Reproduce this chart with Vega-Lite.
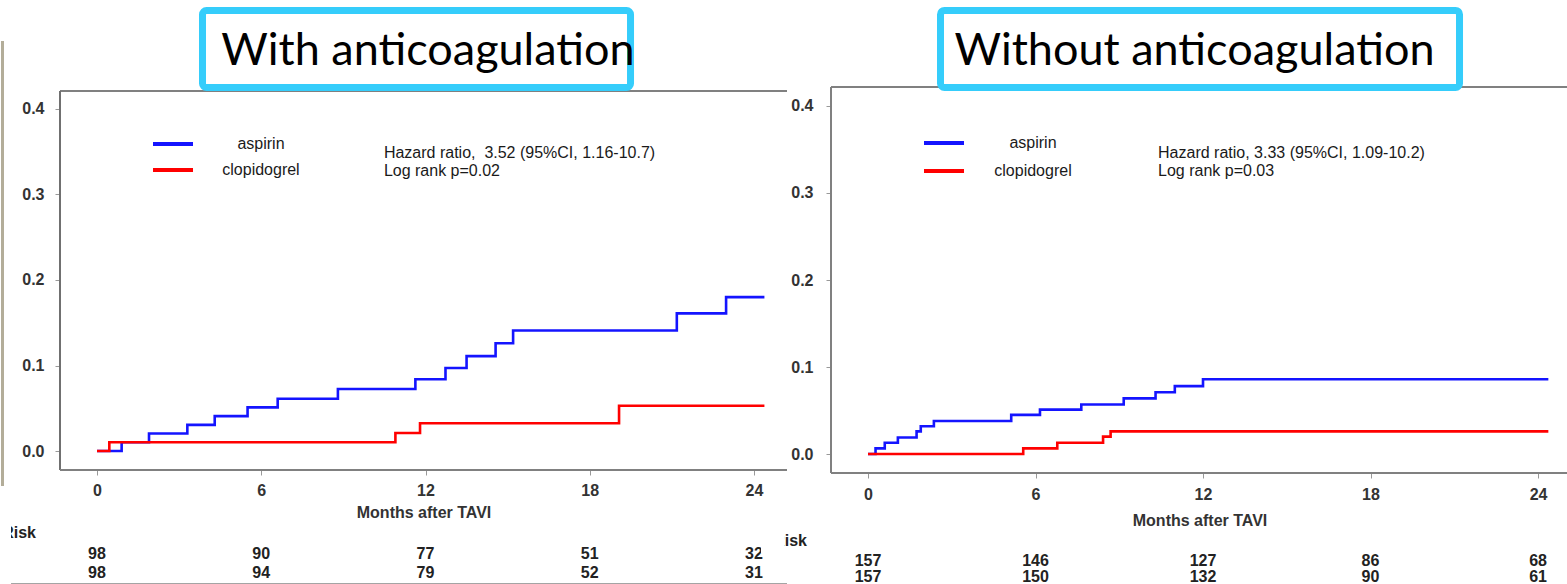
{
  "$schema": "https://vega.github.io/schema/vega-lite/v6.json",
  "padding": {"left": 0, "top": 6, "right": 0, "bottom": 0},
  "background": "white",
  "spacing": 44,
  "bounds": "flush",
  "config": {
    "view": {"stroke": null},
    "axis": {
      "grid": false, "domain": false, "ticks": true, "tickColor": "#999999", "tickSize": 5, "tickWidth": 1,
      "labelFont": "Liberation Sans", "labelFontWeight": "bold", "labelFontSize": 16, "labelColor": "#333333",
      "titleFont": "Liberation Sans", "titleFontWeight": "bold", "titleFontSize": 16, "titleColor": "#333333"
    },
    "text": {"font": "Liberation Sans", "fontSize": 16, "fontWeight": "normal", "color": "#1a1a1a"}
  },
  "datasets": {
    "left_curves": [
      {"group": "aspirin", "t": 0, "v": 0}, {"group": "aspirin", "t": 0.9, "v": 0.0102}, {"group": "aspirin", "t": 1.9, "v": 0.0204},
      {"group": "aspirin", "t": 3.3, "v": 0.0306}, {"group": "aspirin", "t": 4.3, "v": 0.0408}, {"group": "aspirin", "t": 5.5, "v": 0.051},
      {"group": "aspirin", "t": 6.6, "v": 0.0612}, {"group": "aspirin", "t": 8.8, "v": 0.0725}, {"group": "aspirin", "t": 11.63, "v": 0.084},
      {"group": "aspirin", "t": 12.73, "v": 0.097}, {"group": "aspirin", "t": 13.5, "v": 0.111}, {"group": "aspirin", "t": 14.56, "v": 0.126},
      {"group": "aspirin", "t": 15.2, "v": 0.141}, {"group": "aspirin", "t": 21.18, "v": 0.161}, {"group": "aspirin", "t": 22.98, "v": 0.18},
      {"group": "aspirin", "t": 24.38, "v": 0.18},
      {"group": "clopidogrel", "t": 0, "v": 0}, {"group": "clopidogrel", "t": 0.45, "v": 0.0102}, {"group": "clopidogrel", "t": 10.9, "v": 0.021},
      {"group": "clopidogrel", "t": 11.8, "v": 0.0325}, {"group": "clopidogrel", "t": 19.07, "v": 0.053}, {"group": "clopidogrel", "t": 24.38, "v": 0.053}
    ],
    "right_curves": [
      {"group": "aspirin", "t": 0, "v": 0}, {"group": "aspirin", "t": 0.27, "v": 0.0065}, {"group": "aspirin", "t": 0.6, "v": 0.013},
      {"group": "aspirin", "t": 1.07, "v": 0.019}, {"group": "aspirin", "t": 1.74, "v": 0.026}, {"group": "aspirin", "t": 1.89, "v": 0.032},
      {"group": "aspirin", "t": 2.36, "v": 0.038}, {"group": "aspirin", "t": 5.13, "v": 0.045}, {"group": "aspirin", "t": 6.16, "v": 0.051},
      {"group": "aspirin", "t": 7.64, "v": 0.057}, {"group": "aspirin", "t": 9.16, "v": 0.064}, {"group": "aspirin", "t": 10.3, "v": 0.071},
      {"group": "aspirin", "t": 10.99, "v": 0.078}, {"group": "aspirin", "t": 12.0, "v": 0.086}, {"group": "aspirin", "t": 24.37, "v": 0.086},
      {"group": "clopidogrel", "t": 0, "v": 0}, {"group": "clopidogrel", "t": 5.56, "v": 0.0065}, {"group": "clopidogrel", "t": 6.78, "v": 0.013},
      {"group": "clopidogrel", "t": 8.42, "v": 0.02}, {"group": "clopidogrel", "t": 8.69, "v": 0.026}, {"group": "clopidogrel", "t": 24.37, "v": 0.026}
    ],
    "left_risk": [
      {"group": "aspirin", "month": 0, "n": 98}, {"group": "aspirin", "month": 6, "n": 90}, {"group": "aspirin", "month": 12, "n": 77},
      {"group": "aspirin", "month": 18, "n": 51}, {"group": "aspirin", "month": 24, "n": 32},
      {"group": "clopidogrel", "month": 0, "n": 98}, {"group": "clopidogrel", "month": 6, "n": 94}, {"group": "clopidogrel", "month": 12, "n": 79},
      {"group": "clopidogrel", "month": 18, "n": 52}, {"group": "clopidogrel", "month": 24, "n": 31}
    ],
    "right_risk": [
      {"group": "aspirin", "month": 0, "n": 157}, {"group": "aspirin", "month": 6, "n": 146}, {"group": "aspirin", "month": 12, "n": 127},
      {"group": "aspirin", "month": 18, "n": 86}, {"group": "aspirin", "month": 24, "n": 68},
      {"group": "clopidogrel", "month": 0, "n": 157}, {"group": "clopidogrel", "month": 6, "n": 150}, {"group": "clopidogrel", "month": 12, "n": 132},
      {"group": "clopidogrel", "month": 18, "n": 90}, {"group": "clopidogrel", "month": 24, "n": 61}
    ]
  },
  "hconcat": [
    {
      "width": 727,
      "height": 383,
      "data": {"values": [{}]},
      "layer": [
        {
          "data": {"name": "left_curves"},
          "mark": {"type": "line", "interpolate": "step-after", "strokeWidth": 2.6},
          "encoding": {
            "x": {"field": "t", "type": "quantitative", "scale": {"domain": [-1.3516, 25.205], "nice": false, "zero": false},
                  "axis": {"values": [0, 6, 12, 18, 24], "title": "Months after TAVI", "labelPadding": 7.4, "titlePadding": 6}},
            "y": {"field": "v", "type": "quantitative", "scale": {"domain": [-0.0222, 0.4257], "nice": false, "zero": false},
                  "axis": {"values": [0, 0.1, 0.2, 0.3, 0.4], "format": ".1f", "title": null, "labelPadding": 11}},
            "color": {"field": "group", "type": "nominal", "scale": {"domain": ["aspirin", "clopidogrel"], "range": ["#1414ff", "#ff0000"]}, "legend": null},
            "detail": {"field": "group"}
          }
        },
        {"mark": {"type": "rect", "color": "#b3ad99"}, "encoding": {"x": {"datum": -3.507}, "x2": {"datum": -3.397}, "y": {"datum": 0.4795}, "y2": {"datum": -0.041}}},
        {"mark": {"type": "rule", "color": "#808080", "strokeWidth": 2}, "encoding": {"y": {"datum": 0.4211}}},
        {"mark": {"type": "rule", "color": "#707070", "strokeWidth": 2}, "encoding": {"x": {"datum": -1.3516}, "y": {"datum": 0.4211}, "y2": {"datum": -0.0222}}},
        {"mark": {"type": "rule", "color": "#808080", "strokeWidth": 2}, "encoding": {"y": {"datum": -0.0222}}},
        {"mark": {"type": "rule", "strokeWidth": 4}, "encoding": {"x": {"datum": 2.046}, "x2": {"datum": 3.507}, "y": {"datum": 0.359}, "color": {"datum": "aspirin"}}},
        {"mark": {"type": "rule", "strokeWidth": 4}, "encoding": {"x": {"datum": 2.046}, "x2": {"datum": 3.507}, "y": {"datum": 0.3287}, "color": {"datum": "clopidogrel"}}},
        {"mark": {"type": "text", "text": "aspirin", "align": "center", "baseline": "middle"}, "encoding": {"x": {"datum": 5.99}, "y": {"datum": 0.359}}},
        {"mark": {"type": "text", "text": "clopidogrel", "align": "center", "baseline": "middle"}, "encoding": {"x": {"datum": 5.99}, "y": {"datum": 0.3287}}},
        {"mark": {"type": "text", "text": "Hazard ratio, \u00a03.52 (95%CI, 1.16-10.7)", "align": "left", "baseline": "middle"}, "encoding": {"x": {"datum": 10.48}, "y": {"datum": 0.3485}}},
        {"mark": {"type": "text", "text": "Log rank p=0.02", "align": "left", "baseline": "middle"}, "encoding": {"x": {"datum": 10.48}, "y": {"datum": 0.3275}}},
        {"mark": {"type": "rect", "fill": "white", "stroke": "#35cdfb", "strokeWidth": 7, "cornerRadius": 4}, "encoding": {"x": {"datum": 3.854}, "x2": {"datum": 19.489}, "y": {"datum": 0.5152}, "y2": {"datum": 0.4251}}},
        {"mark": {"type": "text", "text": "With anticoagulation", "font": "Lato", "fontSize": 45, "fontWeight": "normal", "color": "#000000", "align": "center", "baseline": "middle"}, "encoding": {"x": {"datum": 12.09}, "y": {"datum": 0.4673}}},
        {"mark": {"type": "text", "text": "Risk", "font": "Liberation Sans", "fontWeight": "bold", "fontSize": 16, "color": "#222222", "align": "right", "baseline": "middle"}, "encoding": {"x": {"datum": -2.228}, "y": {"datum": -0.0959}}},
        {"mark": {"type": "rect", "color": "white"}, "encoding": {"x": {"datum": -3.507}, "x2": {"datum": -3.1416}, "y": {"datum": -0.0842}, "y2": {"datum": -0.1076}}},
        {
          "data": {"name": "left_risk"},
          "transform": [{"filter": "datum.group === 'aspirin'"}],
          "mark": {"type": "text", "font": "Liberation Sans", "fontWeight": "bold", "fontSize": 16, "color": "#222222", "align": "center", "baseline": "middle"},
          "encoding": {"x": {"field": "month", "type": "quantitative"}, "y": {"datum": -0.1205}, "text": {"field": "n", "type": "quantitative"}}
        },
        {
          "data": {"name": "left_risk"},
          "transform": [{"filter": "datum.group === 'clopidogrel'"}],
          "mark": {"type": "text", "font": "Liberation Sans", "fontWeight": "bold", "fontSize": 16, "color": "#222222", "align": "center", "baseline": "middle"},
          "encoding": {"x": {"field": "month", "type": "quantitative"}, "y": {"datum": -0.1427}, "text": {"field": "n", "type": "quantitative"}}
        },
        {"mark": {"type": "rule", "color": "#a0a0a0", "strokeWidth": 1}, "encoding": {"x": {"datum": -3.14}, "x2": {"datum": 25.205}, "y": {"datum": -0.155}}}
      ]
    },
    {
      "width": 737,
      "height": 386,
      "data": {"values": [{}]},
      "layer": [
        {
          "data": {"name": "right_curves"},
          "mark": {"type": "line", "interpolate": "step-after", "strokeWidth": 2.6},
          "encoding": {
            "x": {"field": "t", "type": "quantitative", "scale": {"domain": [-1.3254, 25.074], "nice": false, "zero": false},
                  "axis": {"values": [0, 6, 12, 18, 24], "title": "Months after TAVI", "labelPadding": 8.4, "titlePadding": 10}},
            "y": {"field": "v", "type": "quantitative", "scale": {"domain": [-0.0218, 0.4218], "nice": false, "zero": false},
                  "axis": {"values": [0, 0.1, 0.2, 0.3, 0.4], "format": ".1f", "title": null, "labelPadding": 13}},
            "color": {"field": "group", "type": "nominal", "scale": {"domain": ["aspirin", "clopidogrel"], "range": ["#1414ff", "#ff0000"]}, "legend": null},
            "detail": {"field": "group"}
          }
        },
        {"mark": {"type": "rule", "color": "#808080", "strokeWidth": 2}, "encoding": {"y": {"datum": 0.4218}}},
        {"mark": {"type": "rule", "color": "#808080", "strokeWidth": 2}, "encoding": {"x": {"datum": -1.3254}}},
        {"mark": {"type": "rule", "color": "#808080", "strokeWidth": 2}, "encoding": {"y": {"datum": -0.0218}}},
        {"mark": {"type": "rule", "strokeWidth": 4}, "encoding": {"x": {"datum": 2.006}, "x2": {"datum": 3.439}, "y": {"datum": 0.3575}, "color": {"datum": "aspirin"}}},
        {"mark": {"type": "rule", "strokeWidth": 4}, "encoding": {"x": {"datum": 2.006}, "x2": {"datum": 3.439}, "y": {"datum": 0.3253}, "color": {"datum": "clopidogrel"}}},
        {"mark": {"type": "text", "text": "aspirin", "align": "center", "baseline": "middle"}, "encoding": {"x": {"datum": 5.91}, "y": {"datum": 0.3575}}},
        {"mark": {"type": "text", "text": "clopidogrel", "align": "center", "baseline": "middle"}, "encoding": {"x": {"datum": 5.91}, "y": {"datum": 0.3253}}},
        {"mark": {"type": "text", "text": "Hazard ratio, 3.33 (95%CI, 1.09-10.2)", "align": "left", "baseline": "middle"}, "encoding": {"x": {"datum": 10.39}, "y": {"datum": 0.346}}},
        {"mark": {"type": "text", "text": "Log rank p=0.03", "align": "left", "baseline": "middle"}, "encoding": {"x": {"datum": 10.39}, "y": {"datum": 0.3253}}},
        {"mark": {"type": "rect", "fill": "white", "stroke": "#35cdfb", "strokeWidth": 7, "cornerRadius": 4}, "encoding": {"x": {"datum": 2.597}, "x2": {"datum": 21.188}, "y": {"datum": 0.5098}, "y2": {"datum": 0.4213}}},
        {"mark": {"type": "text", "text": "Without anticoagulation", "font": "Lato", "fontSize": 45, "fontWeight": "normal", "color": "#000000", "align": "center", "baseline": "middle"}, "encoding": {"x": {"datum": 11.695}, "y": {"datum": 0.4626}}},
        {"mark": {"type": "text", "text": "Risk", "font": "Liberation Sans", "fontWeight": "bold", "fontSize": 16, "color": "#222222", "align": "right", "baseline": "middle"}, "encoding": {"x": {"datum": -2.185}, "y": {"datum": -0.1}}},
        {"mark": {"type": "rect", "color": "white"}, "encoding": {"x": {"datum": -3.833}, "x2": {"datum": -2.991}, "y": {"datum": -0.0862}, "y2": {"datum": -0.1138}}},
        {
          "data": {"name": "right_risk"},
          "transform": [{"filter": "datum.group === 'aspirin'"}],
          "mark": {"type": "text", "font": "Liberation Sans", "fontWeight": "bold", "fontSize": 16, "color": "#222222", "align": "center", "baseline": "middle"},
          "encoding": {"x": {"field": "month", "type": "quantitative"}, "y": {"datum": -0.123}, "text": {"field": "n", "type": "quantitative"}}
        },
        {
          "data": {"name": "right_risk"},
          "transform": [{"filter": "datum.group === 'clopidogrel'"}],
          "mark": {"type": "text", "font": "Liberation Sans", "fontWeight": "bold", "fontSize": 16, "color": "#222222", "align": "center", "baseline": "middle"},
          "encoding": {"x": {"field": "month", "type": "quantitative"}, "y": {"datum": -0.1414}, "text": {"field": "n", "type": "quantitative"}}
        }
      ]
    }
  ]
}
